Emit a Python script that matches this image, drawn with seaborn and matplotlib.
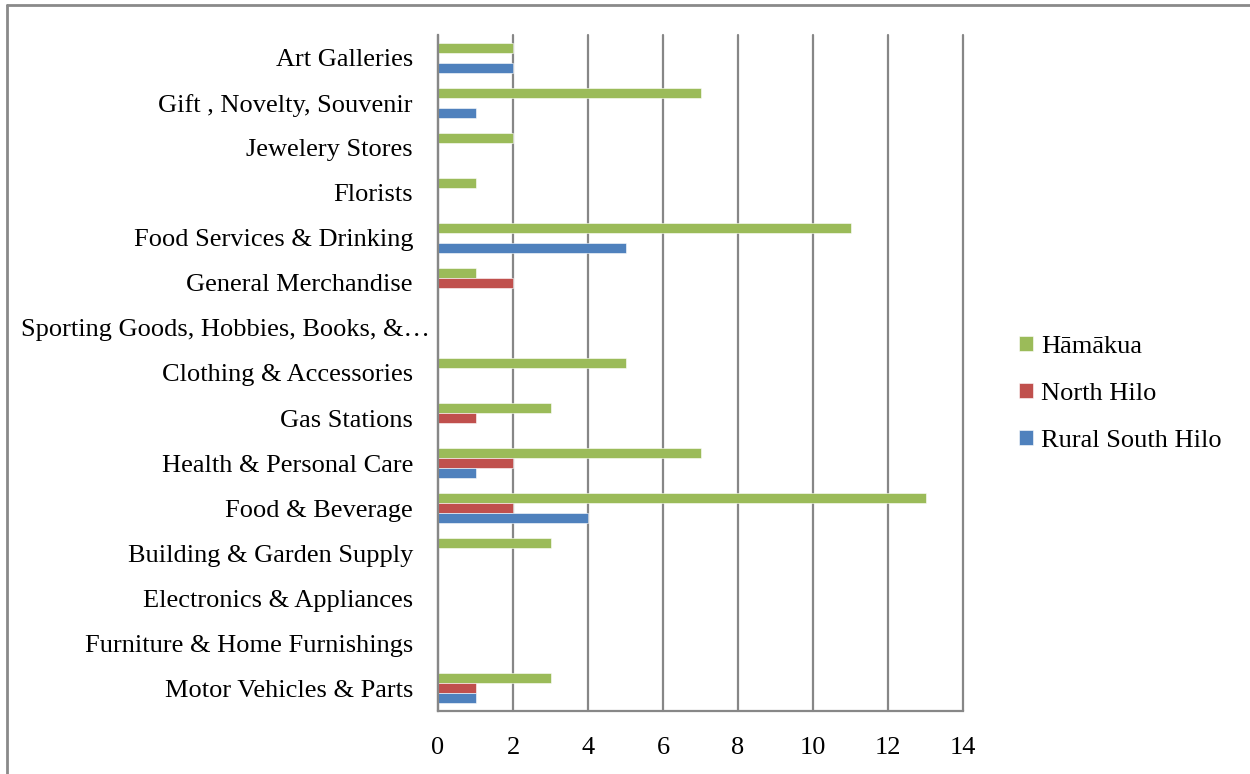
import matplotlib
matplotlib.use("Agg")
import matplotlib.pyplot as plt
from matplotlib.lines import Line2D
import seaborn as sns
import pandas as pd

# Retail establishments by category and district
categories = [
    "Art Galleries",
    "Gift , Novelty, Souvenir",
    "Jewelery Stores",
    "Florists",
    "Food Services & Drinking",
    "General Merchandise",
    "Sporting Goods, Hobbies, Books, &\u2026",
    "Clothing & Accessories",
    "Gas Stations",
    "Health & Personal Care",
    "Food & Beverage",
    "Building & Garden Supply",
    "Electronics & Appliances",
    "Furniture & Home Furnishings",
    "Motor Vehicles & Parts",
]
hamakua = [2, 7, 2, 1, 11, 1, 0, 5, 3, 7, 13, 3, 0, 0, 3]
north_hilo = [0, 0, 0, 0, 0, 2, 0, 0, 1, 2, 2, 0, 0, 0, 1]
rural_south_hilo = [2, 1, 0, 0, 5, 0, 0, 0, 0, 1, 4, 0, 0, 0, 1]
series_names = ["H\u0101m\u0101kua", "North Hilo", "Rural South Hilo"]
series_colors = ["#9BBB59", "#C0504D", "#4F81BD"]
x_ticks = [0, 2, 4, 6, 8, 10, 12, 14]

rows = []
for name, vals in zip(series_names, [hamakua, north_hilo, rural_south_hilo]):
    for cat, v in zip(categories, vals):
        rows.append({"category": cat, "series": name, "value": v})
df = pd.DataFrame(rows)

sns.set_theme(style="white")
plt.rcParams["font.family"] = ["Liberation Serif", "DejaVu Serif"]
FS = 19
grid_color = "#878787"

fig = plt.figure(figsize=(12.5, 7.74), dpi=100)
ax = fig.add_axes([438 / 1250, 1 - 711 / 774, (963 - 438) / 1250, (711 - 35) / 774])

sns.barplot(
    data=df, y="category", x="value", hue="series",
    order=categories, hue_order=series_names, palette=series_colors,
    orient="h", width=0.667, dodge=True, saturation=1,
    edgecolor="#ffffff", linewidth=0.4, ax=ax,
)

ax.set_xlim(0, 14)
ax.set_xticks(x_ticks)
ax.set_xlabel("")
ax.set_ylabel("")
ax.xaxis.grid(True, color=grid_color, linewidth=1.6)
for gl in ax.get_xgridlines():
    gl.set_clip_on(False)
ax.yaxis.grid(False)
ax.set_axisbelow(True)
for side in ["top", "right"]:
    ax.spines[side].set_visible(False)
for side in ["left", "bottom"]:
    ax.spines[side].set_color(grid_color)
    ax.spines[side].set_linewidth(1.6)
ax.tick_params(axis="x", length=0, pad=18.5, labelsize=FS, colors="black")
ax.tick_params(axis="y", length=0, pad=18, labelsize=FS, colors="black")

# The truncated category label sits closer to the axis than the others
for tick, cat in zip(ax.yaxis.get_major_ticks(), categories):
    if cat.endswith("\u2026"):
        tick.set_pad(6)

handles, labels = ax.get_legend_handles_labels()
ax.legend_.remove()
fig.legend(
    handles, labels, loc="center left",
    bbox_to_anchor=(1019 / 1250, 1 - 394 / 774),
    frameon=False, fontsize=FS, labelcolor="black",
    handlelength=0.53, handleheight=0.5, handletextpad=0.3,
    labelspacing=0.95, borderpad=0, borderaxespad=0,
)

# Outer frame (left and top edges)
fig.add_artist(Line2D([7 / 1250, 7 / 1250], [0, 1 - 5 / 774],
                      transform=fig.transFigure, color="#8a8a8a", linewidth=2))
fig.add_artist(Line2D([7 / 1250, 1], [1 - 5 / 774, 1 - 5 / 774],
                      transform=fig.transFigure, color="#8a8a8a", linewidth=2))

fig.savefig("out.png", dpi=100, facecolor="white")
